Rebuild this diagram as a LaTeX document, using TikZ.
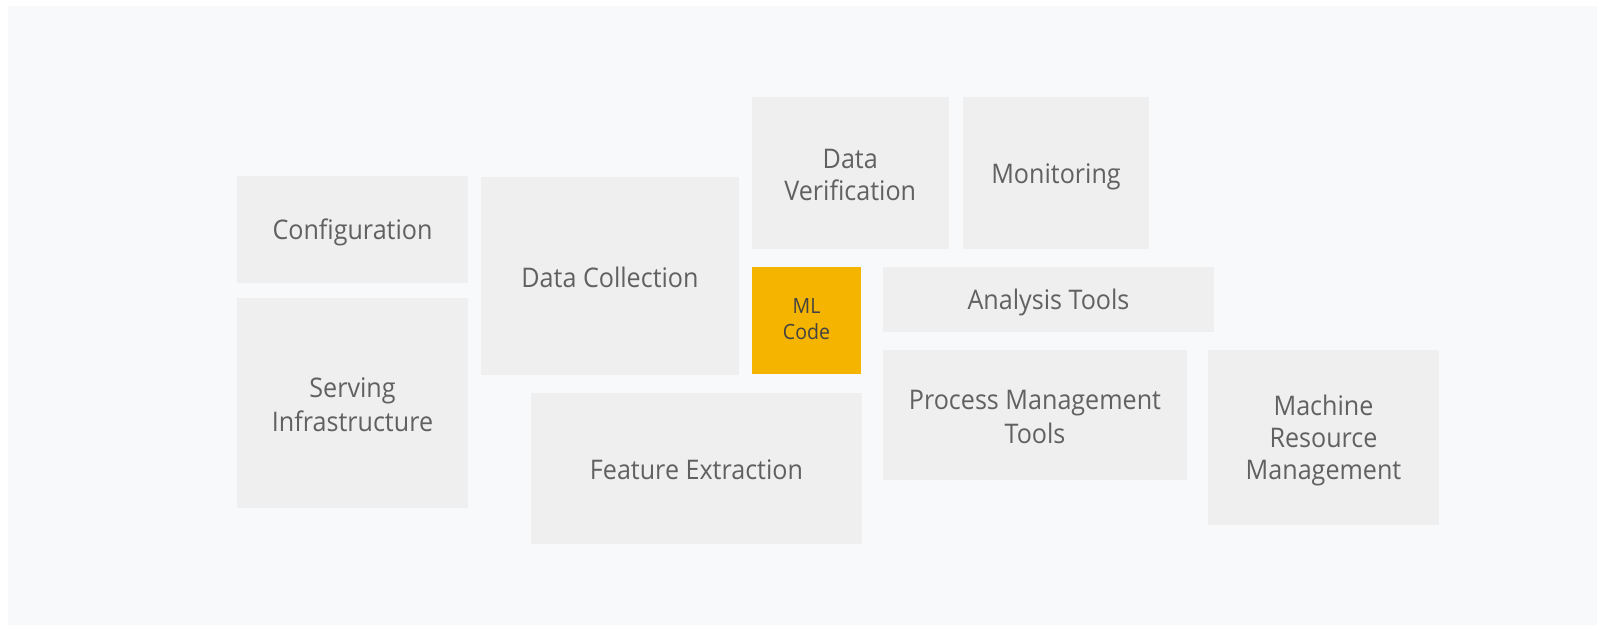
\documentclass[tikz,border=0pt]{standalone}
\usepackage{fontspec}
\newfontfamily\rob[FakeStretch=0.93]{Open Sans}
\definecolor{bgc}{HTML}{F8F9FA}
\definecolor{boxc}{HTML}{EFEFEF}
\definecolor{txtc}{HTML}{616161}
\definecolor{mlc}{HTML}{F4B400}
\definecolor{mltxt}{HTML}{424242}
\newcommand\sv{\rule[-0.15em]{0pt}{1.15em}}
\tikzset{
  tile/.style={fill=boxc, draw=none, inner sep=0pt, align=center, text=txtc,
    font=\rob\fontsize{27}{32}\selectfont,
    execute at begin node=\sv, execute at end node=\sv},
  mltile/.style={tile, fill=mlc, text=mltxt, font=\rob\fontsize{21}{26}\selectfont}
}
\begin{document}
\begin{tikzpicture}[x=1pt,y=-1pt]
\useasboundingbox (0,0) rectangle (1597,625);
\fill[bgc] (8,6) rectangle (1597,625);
\node[tile, minimum width=231pt, minimum height=107pt] (config) at (352.5,229.5) {Configuration};
\node[tile, minimum width=231pt, minimum height=210pt] (serving) at (352.5,403) {\sv Serving\\Infrastructure\sv};
\node[tile, minimum width=258pt, minimum height=198pt] (collect) at (610,276) {Data Collection};
\node[tile, minimum width=196.5pt, minimum height=152pt] (verify) at (850.25,173) {\sv Data\\Verification\sv};
\node[tile, minimum width=186pt, minimum height=152pt] (monitor) at (1056,173) {Monitoring};
\node[mltile, minimum width=109pt, minimum height=107pt] (ml) at (806.5,320.5) {ML\\Code};
\node[tile, minimum width=331pt, minimum height=65pt] (analysis) at (1048.5,299.5) {Analysis Tools};
\node[tile, minimum width=304pt, minimum height=130pt] (process) at (1035,415) {\sv Process Management\\Tools\sv};
\node[tile, minimum width=231pt, minimum height=174.5pt] (machine) at (1323.5,437.25) {\sv Machine\\Resource\\Management\sv};
\node[tile, minimum width=331pt, minimum height=151pt] (feature) at (696.5,468.5) {Feature Extraction};
\end{tikzpicture}
\end{document}
